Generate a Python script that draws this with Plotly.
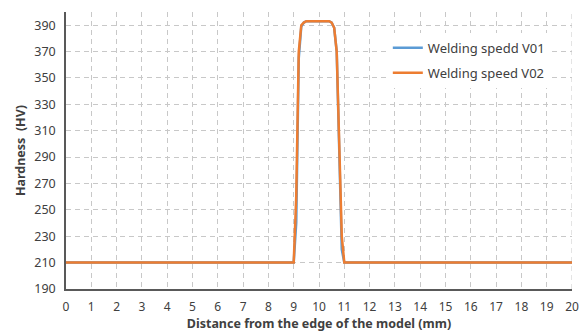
import plotly.graph_objects as go

x_v01 = [0, 9.0, 9.1, 9.2, 9.3, 9.4, 9.5, 10.0, 10.4, 10.5, 10.6, 10.7, 10.8, 10.9, 11.0, 20]
y_v01 = [210, 210, 240, 365, 389, 392, 393, 393, 393, 392, 388, 370, 300, 220, 210, 210]

x_v02 = [0, 9.0, 9.1, 9.2, 9.3, 9.4, 9.5, 10.0, 10.4, 10.5, 10.6, 10.7, 10.8, 10.9, 11.0, 20]
y_v02 = [210, 210, 260, 370, 390, 392, 393, 393, 393, 392, 388, 370, 300, 230, 210, 210]

series_names = ["Welding spedd V01", "Welding speed V02"]
x_ticks = list(range(0, 21))
y_ticks = list(range(190, 400, 20))

FONT = "Noto Sans"
GRID = "#C8C8C8"
fig = go.Figure()
fig.add_trace(go.Scatter(x=x_v01, y=y_v01, mode="lines", name=series_names[0],
                         legendgroup="a",
                         line=dict(color="#5B9BD5", width=2.5)))
fig.add_trace(go.Scatter(x=x_v02, y=y_v02, mode="lines", name=series_names[1],
                         legendgroup="b",
                         line=dict(color="#ED7D31", width=2.5)))

fig.update_layout(
    width=579, height=332,
    margin=dict(l=66, r=7, t=12, b=43, autoexpand=False),
    paper_bgcolor="white", plot_bgcolor="white",
    font=dict(family=FONT, size=12, color="#404040"),
    legend=dict(x=0.636, y=0.925, xanchor="left", yanchor="top",
                bgcolor="white", itemwidth=30, tracegroupgap=5,
                font=dict(family=FONT, size=13, color="#404040")),
    xaxis=dict(range=[0, 20], tickvals=x_ticks, showgrid=True, gridcolor=GRID,
               griddash="5px,4px", gridwidth=1, zeroline=False, automargin=True,
               showline=True, linecolor="#595959", linewidth=1.5,
               ticks="outside", ticklen=6, tickcolor="white", tickfont=dict(size=12),
               title=dict(text="<b>Distance from the edge of the model (mm)</b>",
                          font=dict(size=12.5, color="#404040"), standoff=2)),
    yaxis=dict(range=[190, 400], tickvals=y_ticks, showgrid=True, gridcolor=GRID,
               griddash="5px,4px", gridwidth=1, zeroline=False, automargin=True,
               showline=True, linecolor="#595959", linewidth=1.5,
               ticks="outside", ticklen=6, tickcolor="white", tickfont=dict(size=12.5),
               title=dict(text="<b>Hardness  (HV)</b>",
                          font=dict(size=12.5, color="#404040"), standoff=6)),
)
# right-edge dashed gridline at x=20
fig.add_shape(type="line", xref="x", yref="paper", x0=20, x1=20, y0=0, y1=1,
              line=dict(color=GRID, width=1, dash="5px,4px"), layer="below")

fig.write_html("out.html")
